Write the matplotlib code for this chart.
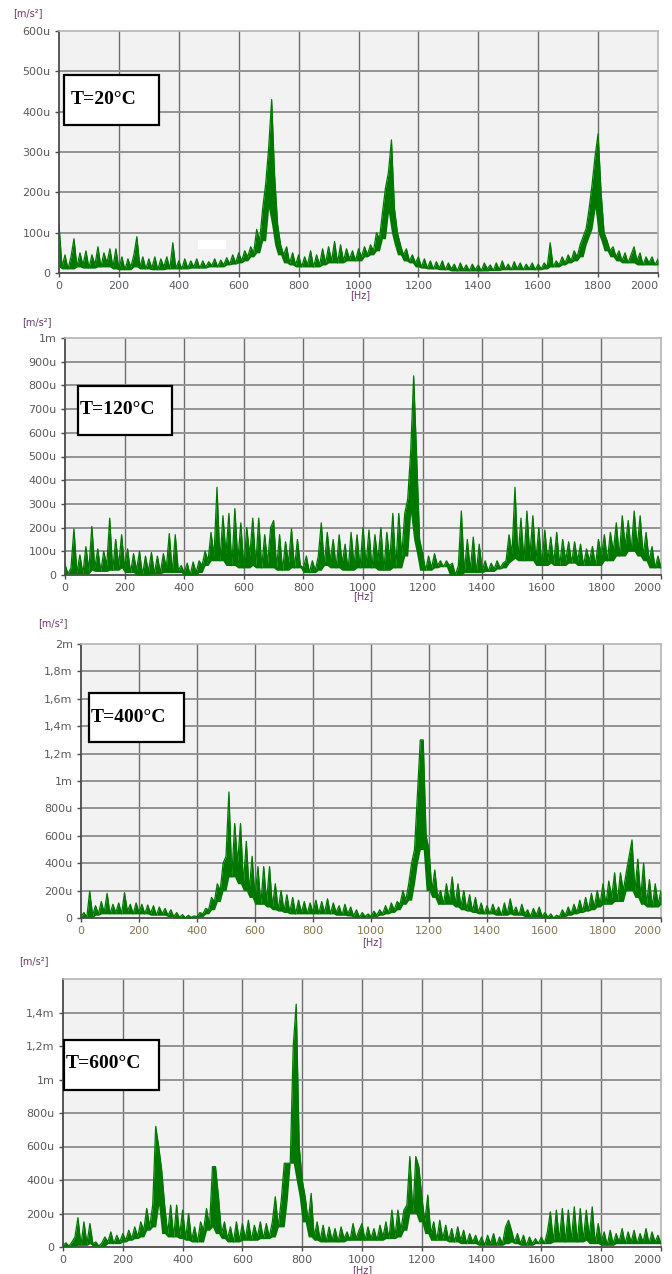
"""
Vibration spectra (acceleration vs frequency) at four temperatures,
stacked top to bottom, drawn to look like the analyser screenshots.
"""

import numpy as np
import pandas as pd
import matplotlib
matplotlib.use("Agg")
import matplotlib.pyplot as plt
from matplotlib.patches import Rectangle

W, H = 672, 1274

FREQ = np.arange(0, 2001, 10)  # Hz, one reading every 10 Hz

# amplitudes in u (micro m/s^2), 10 values per 100 Hz
AMP_20C = [
    120, 15, 45, 10, 40, 85, 15, 50, 20, 55,
    12, 45, 20, 65, 15, 50, 25, 60, 15, 60,
    10, 40, 8, 35, 15, 45, 90, 15, 40, 10,
    35, 12, 40, 8, 35, 15, 40, 10, 75, 12,
    30, 10, 35, 12, 30, 15, 35, 12, 30, 15,
    28, 18, 35, 15, 32, 20, 38, 22, 45, 25,
    50, 30, 55, 40, 65, 50, 108, 80, 160, 220,
    310, 430, 240, 120, 70, 45, 65, 25, 50, 20,
    45, 15, 40, 20, 55, 15, 45, 20, 60, 25,
    65, 30, 78, 25, 70, 30, 60, 35, 55, 30,
    60, 40, 65, 45, 70, 55, 100, 85, 150, 210,
    250, 330, 160, 100, 70, 45, 60, 30, 45, 25,
    40, 15, 35, 12, 30, 10, 28, 12, 30, 8,
    25, 10, 22, 5, 25, 8, 20, 5, 22, 8,
    20, 5, 25, 10, 20, 6, 25, 8, 30, 10,
    22, 8, 28, 10, 25, 8, 22, 10, 25, 8,
    22, 10, 25, 15, 75, 15, 30, 20, 40, 25,
    45, 30, 55, 40, 70, 90, 110, 160, 220, 290,
    345, 200, 100, 80, 55, 65, 40, 55, 30, 50,
    25, 45, 65, 30, 50, 20, 40, 25, 40, 20,
    35,
]

AMP_120C = [
    45, 5, 30, 195, 10, 85, 5, 120, 20, 205,
    30, 110, 15, 100, 40, 240, 20, 150, 40, 170,
    30, 110, 10, 90, 20, 100, 0, 80, 15, 95,
    5, 80, 10, 90, 30, 175, 10, 170, 20, 40,
    10, 50, 0, 55, 10, 60, 40, 100, 60, 180,
    80, 370, 60, 250, 90, 260, 40, 280, 60, 220,
    30, 200, 80, 240, 40, 240, 30, 170, 50, 200,
    230, 30, 170, 20, 140, 50, 195, 30, 150, 40,
    30, 80, 10, 60, 20, 80, 220, 40, 180, 60,
    150, 30, 170, 50, 130, 20, 180, 40, 170, 30,
    200, 40, 190, 30, 170, 60, 200, 20, 180, 60,
    260, 30, 260, 80, 260, 320, 520, 840, 500, 150,
    90, 20, 80, 30, 90, 40, 60, 35, 60, 40,
    50, 0, 40, 270, 10, 150, 20, 160, 10, 130,
    20, 60, 15, 50, 25, 60, 30, 50, 60, 170,
    90, 370, 70, 240, 60, 270, 80, 250, 60, 200,
    40, 190, 60, 160, 50, 180, 40, 150, 60, 140,
    50, 140, 60, 130, 40, 110, 60, 120, 40, 150,
    80, 170, 60, 180, 100, 220, 80, 250, 120, 230,
    100, 270, 120, 250, 80, 180, 60, 120, 30, 80,
    30,
]

AMP_400C = [
    10, 40, 5, 195, 20, 90, 30, 120, 40, 180,
    30, 100, 40, 110, 30, 185, 50, 100, 30, 110,
    40, 100, 30, 95, 35, 90, 20, 80, 30, 70,
    20, 60, 10, 40, 5, 25, 0, 20, 5, 15,
    10, 40, 30, 70, 60, 150, 120, 250, 200, 400,
    450, 920, 300, 690, 400, 690, 250, 560, 200, 450,
    150, 375, 100, 375, 120, 375, 80, 250, 60, 200,
    50, 170, 40, 150, 30, 130, 40, 120, 30, 110,
    40, 130, 30, 120, 40, 140, 30, 110, 40, 90,
    20, 100, 30, 80, 15, 60, 5, 40, 10, 30,
    10, 50, 20, 60, 30, 90, 40, 110, 60, 120,
    100, 200, 130, 250, 400, 500, 900, 1300, 1300, 600,
    500, 200, 350, 150, 200, 100, 250, 120, 300, 100,
    250, 80, 200, 60, 170, 50, 150, 40, 110, 30,
    90, 30, 100, 40, 80, 20, 110, 30, 140, 40,
    80, 20, 100, 30, 60, 10, 70, 20, 80, 10,
    40, 5, 30, 0, 20, 10, 60, 20, 80, 30,
    100, 40, 130, 50, 150, 60, 180, 80, 200, 100,
    250, 100, 270, 150, 330, 120, 330, 200, 330, 450,
    570, 200, 430, 150, 400, 100, 280, 80, 250, 100,
    200,
]

AMP_600C = [
    10, 25, 5, 30, 60, 175, 10, 150, 20, 140,
    20, 30, 5, 25, 60, 30, 90, 20, 70, 30,
    80, 40, 100, 50, 120, 60, 150, 100, 230, 120,
    250, 720, 600, 460, 250, 80, 250, 60, 250, 70,
    220, 50, 200, 40, 120, 30, 150, 100, 230, 120,
    480, 480, 300, 80, 150, 50, 120, 30, 150, 40,
    140, 50, 160, 40, 130, 60, 150, 50, 140, 60,
    150, 300, 120, 280, 500, 500, 500, 1200, 1450, 600,
    400, 300, 150, 320, 60, 150, 40, 130, 30, 120,
    40, 110, 30, 120, 50, 90, 40, 140, 50, 100,
    140, 40, 120, 50, 110, 40, 130, 60, 150, 50,
    220, 60, 220, 100, 220, 250, 540, 200, 540, 480,
    300, 150, 310, 80, 150, 40, 160, 50, 130, 40,
    110, 30, 120, 40, 100, 20, 80, 30, 70, 20,
    60, 10, 70, 20, 80, 10, 60, 20, 120, 160,
    100, 30, 80, 20, 70, 10, 60, 20, 50, 20,
    60, 20, 90, 210, 30, 220, 40, 230, 30, 220,
    40, 240, 30, 230, 40, 220, 60, 240, 20, 140,
    30, 90, 10, 100, 20, 80, 30, 110, 20, 90,
    30, 100, 20, 80, 30, 110, 20, 90, 30, 70,
    20,
]

LABELS = ["T=20°C", "T=120°C", "T=400°C", "T=600°C"]
SERIES = [AMP_20C, AMP_120C, AMP_400C, AMP_600C]

XTICKS = [0, 200, 400, 600, 800, 1000, 1200, 1400, 1600, 1800, 2000]

YTICKS = [
    [0, 100, 200, 300, 400, 500, 600],
    [0, 100, 200, 300, 400, 500, 600, 700, 800, 900, 1000],
    [0, 200, 400, 600, 800, 1000, 1200, 1400, 1600, 1800, 2000],
    [0, 200, 400, 600, 800, 1000, 1200, 1400],
]
YTICKLABELS = [
    ["0", "100u", "200u", "300u", "400u", "500u", "600u"],
    ["0", "100u", "200u", "300u", "400u", "500u", "600u", "700u", "800u", "900u", "1m"],
    ["0", "200u", "400u", "600u", "800u", "1m", "1,2m", "1,4m", "1,6m", "1,8m", "2m"],
    ["0", "200u", "400u", "600u", "800u", "1m", "1,2m", "1,4m"],
]
YMAX = [600, 1000, 2000, 1600]

# layout, in pixels of the 672x1274 picture: axes (l, t, r, b), label box,
# label text anchor, unit label centre, [Hz] centre
AX_PX = [(59, 31, 658, 273), (65, 338, 661, 575), (81, 644, 661, 918), (63, 979, 661, 1247)]
BOX_PX = [(64, 75, 159, 125), (78, 386, 172, 435), (89, 693, 184, 742), (64, 1040, 159, 1090)]
TXT_PX = [(71, 100), (80, 410), (91, 717), (66, 1064)]
UNIT_PX = [(28, 13), (37, 322), (53, 623), (34, 961)]
HZ_PX = [(360, 295), (363, 596), (372, 942), (362, 1270)]
XTICK_COLORS = ["#5a5a6a", "#5a5a5a", "#8a7650", "#5a5a5a"]
GREEN = "#007800"


def fx(x):
    return x / W


def fy(y):
    return 1 - y / H


fig = plt.figure(figsize=(W / 100, H / 100), dpi=100)

for i, amp in enumerate(SERIES):
    amp = np.asarray(amp, dtype=float)
    l, t, r, b = AX_PX[i]
    ax = fig.add_axes([fx(l), fy(b), (r - l) / W, (b - t) / H])
    ax.set_facecolor("#f2f2f2")

    # the analyser trace is so dense it reads as a band: fill from the
    # local low of nearby readings up to the trace, then draw the trace
    floor = pd.Series(amp).rolling(5, center=True, min_periods=1).min().to_numpy()
    ax.fill_between(FREQ, floor, amp, color=GREEN, lw=0, zorder=3)
    ax.plot(FREQ, amp, color=GREEN, lw=0.9, zorder=3)

    ax.set_xlim(0, 2000)
    ax.set_ylim(0, YMAX[i])
    ax.set_xticks(XTICKS)
    ax.set_yticks(YTICKS[i])
    ax.set_yticklabels(YTICKLABELS[i])

    for x in XTICKS[1:-1]:
        ax.axvline(x, color="#6e6e6e", lw=1.0, zorder=1)
    for y in YTICKS[i][1:]:
        if y < YMAX[i]:
            ax.axhline(y, color="#939393", lw=1.4, zorder=1)

    for side in ("top", "right"):
        ax.spines[side].set_color("#b4b4b4")
        ax.spines[side].set_linewidth(1.2)
    for side in ("left", "bottom"):
        ax.spines[side].set_color("#4a4a4a")
        ax.spines[side].set_linewidth(1.3)

    ax.tick_params(axis="both", length=3, width=1, color="#4a4a4a", pad=3)
    ax.tick_params(axis="y", labelsize=8, labelcolor="#5a5a5a")
    ax.tick_params(axis="x", labelsize=8, labelcolor=XTICK_COLORS[i])
    # last frequency label sits flush with the right edge, as in the analyser
    ax.get_xticklabels()[-1].set_horizontalalignment("right")

    if i == 0:
        # blank white patch that sits in the original screenshot
        ax.add_patch(Rectangle((463, 60), 94, 22, facecolor="white",
                               edgecolor="none", zorder=2))

    # temperature label box
    bl, bt, br, bb = BOX_PX[i]
    fig.add_artist(Rectangle((fx(bl), fy(bb)), (br - bl) / W, (bb - bt) / H,
                             transform=fig.transFigure, facecolor="white",
                             edgecolor="black", lw=1.6, zorder=5))
    tx, ty = TXT_PX[i]
    fig.text(fx(tx), fy(ty), LABELS[i], ha="left", va="center",
             family="Liberation Serif", weight="bold", size=14, zorder=6)

    ux, uy = UNIT_PX[i]
    fig.text(fx(ux), fy(uy), "[m/s²]", ha="center", va="center",
             size=7, color="#6a3a6a")
    hx, hy = HZ_PX[i]
    fig.text(fx(hx), fy(hy), "[Hz]", ha="center", va="center",
             size=7, color="#6a3a6a")

fig.savefig("out.png", dpi=100)
